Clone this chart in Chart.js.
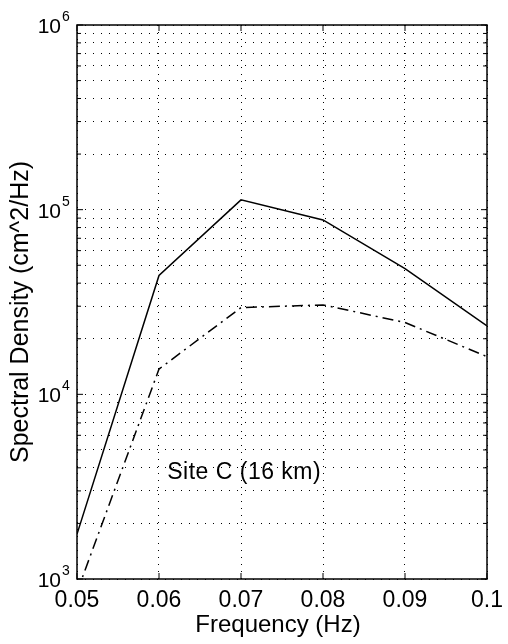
<!DOCTYPE html>
<html lang="en">

<head>
    <meta charset="UTF-8">
    <title>Site C spectral density</title>
    <script src="https://cdn.jsdelivr.net/npm/chart.js"></script>
    <style>
        body { margin: 0; background: #fff; }
    </style>
</head>

<body>
    <canvas id="specChart" width="508" height="644"></canvas>

    <script>
        // values
        const freq = [0.05, 0.06, 0.07, 0.08, 0.09, 0.1];
        const solidSpec = [1750, 44000, 113000, 88000, 48000, 23500];
        const dashDotSpec = [850, 13700, 29500, 30500, 24500, 16000];

        const xTicks = [0.05, 0.06, 0.07, 0.08, 0.09, 0.1];
        const xTickLabels = ["0.05", "0.06", "0.07", "0.08", "0.09", "0.1"];
        const yDecades = [3, 4, 5, 6];
        const yMinor = [2, 3, 4, 5, 6, 7, 8, 9];

        const siteLabel = "Site C (16 km)";
        const xTitle = "Frequency (Hz)";
        const yTitle = "Spectral Density (cm^2/Hz)";

        const FONT = "'Liberation Sans', Arial, sans-serif";

        // all grid values: decades plus 2..9 in between
        const yGridValues = [];
        yDecades.forEach((d, i) => {
            yGridValues.push(Math.pow(10, d));
            if (i < yDecades.length - 1) {
                yMinor.forEach(m => yGridValues.push(m * Math.pow(10, d)));
            }
        });

        const toPoints = (xs, ys) => xs.map((x, i) => ({ x: x, y: ys[i] }));

        // frame, inward ticks, tick labels, titles and the annotation
        const decorPlugin = {
            id: "decor",
            afterDraw(chart) {
                const ctx = chart.ctx;
                const area = chart.chartArea;
                const xs = chart.scales.x;
                const ys = chart.scales.y;
                ctx.save();

                ctx.strokeStyle = "#000";
                ctx.lineWidth = 1.5;
                ctx.strokeRect(area.left, area.top, area.right - area.left, area.bottom - area.top);

                ctx.lineWidth = 1;
                ctx.beginPath();
                xTicks.forEach(v => {
                    const px = xs.getPixelForValue(v);
                    ctx.moveTo(px, area.bottom); ctx.lineTo(px, area.bottom - 6);
                    ctx.moveTo(px, area.top); ctx.lineTo(px, area.top + 6);
                });
                yGridValues.forEach(v => {
                    const py = ys.getPixelForValue(v);
                    const len = yDecades.includes(Math.round(Math.log10(v) * 1000) / 1000) ? 6 : 4;
                    ctx.moveTo(area.left, py); ctx.lineTo(area.left + len, py);
                    ctx.moveTo(area.right, py); ctx.lineTo(area.right - len, py);
                });
                ctx.stroke();

                ctx.fillStyle = "#000";

                // y labels: 10 with a raised exponent
                yDecades.forEach(d => {
                    const py = ys.getPixelForValue(Math.pow(10, d));
                    ctx.font = "21px " + FONT;
                    ctx.textAlign = "right";
                    ctx.textBaseline = "alphabetic";
                    ctx.fillText("10", 61, py + 8);
                    ctx.font = "14px " + FONT;
                    ctx.textAlign = "left";
                    ctx.fillText(String(d), 62, py - 4);
                });

                // x labels
                ctx.font = "23px " + FONT;
                ctx.textAlign = "center";
                ctx.textBaseline = "alphabetic";
                xTicks.forEach((v, i) => {
                    ctx.fillText(xTickLabels[i], xs.getPixelForValue(v), 607);
                });

                ctx.font = "24px " + FONT;
                ctx.fillText(xTitle, 278, 632);

                ctx.save();
                ctx.translate(21, 312);
                ctx.rotate(-Math.PI / 2);
                ctx.font = "25px " + FONT;
                ctx.textBaseline = "middle";
                ctx.fillText(yTitle, 0, 0);
                ctx.restore();

                // annotation, anchored in data space
                ctx.font = "23px " + FONT;
                ctx.letterSpacing = "0.5px";
                ctx.textAlign = "left";
                ctx.textBaseline = "alphabetic";
                ctx.fillText(siteLabel, xs.getPixelForValue(0.061), ys.getPixelForValue(3480));
                ctx.restore();
            }
        };

        new Chart(document.getElementById("specChart"), {
            type: "line",
            data: {
                datasets: [{
                    label: "solid",
                    data: toPoints(freq, solidSpec),
                    borderColor: "#000",
                    borderWidth: 1.5,
                    pointRadius: 0,
                    tension: 0,
                    fill: false
                }, {
                    label: "dash-dot",
                    data: toPoints(freq, dashDotSpec),
                    borderColor: "#000",
                    borderWidth: 1.5,
                    borderDash: [11, 5, 2, 5],
                    pointRadius: 0,
                    tension: 0,
                    fill: false
                }]
            },
            options: {
                responsive: false,
                animation: false,
                layout: { padding: { left: 77, right: 21, top: 25, bottom: 65 } },
                plugins: {
                    legend: { display: false },
                    tooltip: { enabled: false }
                },
                scales: {
                    x: {
                        type: "linear",
                        min: 0.05,
                        max: 0.1,
                        afterBuildTicks: s => { s.ticks = xTicks.map(v => ({ value: v })); },
                        ticks: { display: false },
                        grid: { color: "#000", lineWidth: 1, drawTicks: false },
                        border: { display: false, dash: [1, 6] }
                    },
                    y: {
                        type: "logarithmic",
                        min: 1000,
                        max: 1000000,
                        afterBuildTicks: s => { s.ticks = yGridValues.map(v => ({ value: v })); },
                        ticks: { display: false },
                        grid: { color: "#000", lineWidth: 1, drawTicks: false },
                        border: { display: false, dash: [1, 7] }
                    }
                }
            },
            plugins: [decorPlugin]
        });
    </script>
</body>

</html>
